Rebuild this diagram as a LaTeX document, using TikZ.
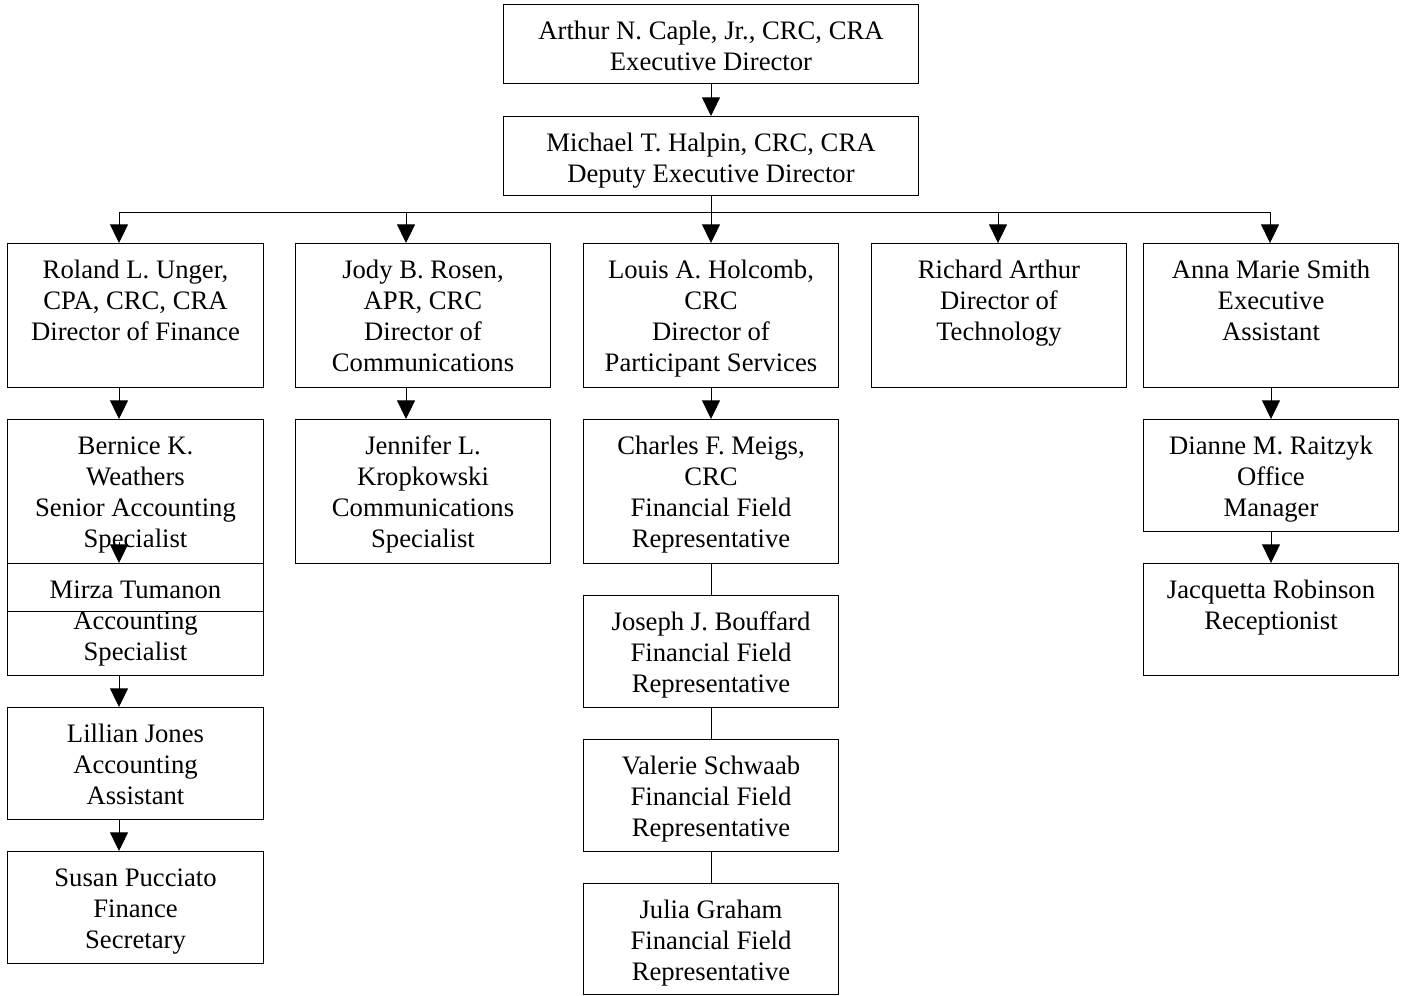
\documentclass[tikz,border=0pt]{standalone}
\usepackage{fontspec}
\setmainfont{Liberation Serif}
\usetikzlibrary{arrows.meta}
\begin{document}
\begin{tikzpicture}[x=0.75pt,y=-0.75pt,
  box/.style 2 args={draw, line width=0.75pt, inner sep=0pt, anchor=north west,
    minimum width=#1*0.75pt, minimum height=#2*0.75pt},
  txt/.style={font=\fontsize{20}{23.25}\selectfont, align=center, inner sep=0pt, anchor=north},
  ln/.style={line width=0.75pt},
  arr/.style={line width=0.75pt, -{Triangle[length=14pt,width=13.5pt]}}]
\useasboundingbox (0,0) rectangle (1401,995);
% boxes
\node[box={415}{79}] (arthur) at (503,4) {};
\node[box={415}{79}] (michael) at (503,116) {};
\node[box={256}{144}] (roland) at (7,243) {};
\node[box={255}{144}] (jody) at (295,243) {};
\node[box={255}{144}] (louis) at (583,243) {};
\node[box={255}{144}] (richard) at (871,243) {};
\node[box={255}{144}] (anna) at (1143,243) {};
\node[box={256}{144}] (bernice) at (7,419) {};
\node[box={256}{112}] (mirza) at (7,563) {};
\node[box={256}{112}] (lillian) at (7,707) {};
\node[box={256}{112}] (susan) at (7,851) {};
\node[box={255}{144}] (jennifer) at (295,419) {};
\node[box={255}{144}] (charles) at (583,419) {};
\node[box={255}{112}] (joseph) at (583,595) {};
\node[box={255}{112}] (valerie) at (583,739) {};
\node[box={255}{111}] (julia) at (583,883) {};
\node[box={255}{112}] (dianne) at (1143,419) {};
\node[box={255}{112}] (jacquetta) at (1143,563) {};
% overlapping line inside Mirza box
\draw[ln] ([yshift=-36pt]mirza.north west) -- ([yshift=-36pt]mirza.north east);
% texts
\node[txt] (tarthur) at ([yshift=-9.95pt]arthur.north) {\strut Arthur N. Caple, Jr., CRC, CRA\\Executive Director};
\node[txt] (tmichael) at ([yshift=-9.95pt]michael.north) {\strut Michael T. Halpin, CRC, CRA\\Deputy Executive Director};
\node[txt] (troland) at ([yshift=-9.95pt]roland.north) {\strut Roland L. Unger,\\CPA, CRC, CRA\\Director of Finance};
\node[txt] (tjody) at ([yshift=-9.95pt]jody.north) {\strut Jody B. Rosen,\\APR, CRC\\Director of\\Communications};
\node[txt] (tlouis) at ([yshift=-9.95pt]louis.north) {\strut Louis A. Holcomb,\\CRC\\Director of\\Participant Services};
\node[txt] (trichard) at ([yshift=-9.95pt]richard.north) {\strut Richard Arthur\\Director of\\Technology};
\node[txt] (tanna) at ([yshift=-9.95pt]anna.north) {\strut Anna Marie Smith\\Executive\\Assistant};
\node[txt] (tbernice) at ([yshift=-9.95pt]bernice.north) {\strut Bernice K.\\Weathers\\Senior Accounting\\Specialist};
\node[txt] (tmirza) at ([yshift=-9.95pt]mirza.north) {\strut Mirza Tumanon\\Accounting\\Specialist};
\node[txt] (tlillian) at ([yshift=-9.95pt]lillian.north) {\strut Lillian Jones\\Accounting\\Assistant};
\node[txt] (tsusan) at ([yshift=-9.95pt]susan.north) {\strut Susan Pucciato\\Finance\\Secretary};
\node[txt] (tjennifer) at ([yshift=-9.95pt]jennifer.north) {\strut Jennifer L.\\Kropkowski\\Communications\\Specialist};
\node[txt] (tcharles) at ([yshift=-9.95pt]charles.north) {\strut Charles F. Meigs,\\CRC\\Financial Field\\Representative};
\node[txt] (tjoseph) at ([yshift=-9.95pt]joseph.north) {\strut Joseph J. Bouffard\\Financial Field\\Representative};
\node[txt] (tvalerie) at ([yshift=-9.95pt]valerie.north) {\strut Valerie Schwaab\\Financial Field\\Representative};
\node[txt] (tjulia) at ([yshift=-9.95pt]julia.north) {\strut Julia Graham\\Financial Field\\Representative};
\node[txt] (tdianne) at ([yshift=-9.95pt]dianne.north) {\strut Dianne M. Raitzyk\\Office\\Manager};
\node[txt] (tjacquetta) at ([yshift=-9.95pt]jacquetta.north) {\strut Jacquetta Robinson\\Receptionist};
% column coordinates
\coordinate (c1) at (119,212);
\coordinate (c2) at (406,212);
\coordinate (c3) at (michael.south |- c1);
\coordinate (c4) at (998,212);
\coordinate (c5) at (1270,212);
% connectors
\draw[arr] (arthur.south) -- (michael.north);
\draw[ln] (michael.south) -- (c3);
\draw[ln] (c1) -- (c5);
\draw[arr] (c1) -- (c1 |- roland.north);
\draw[arr] (c2) -- (c2 |- jody.north);
\draw[arr] (c3) -- (c3 |- louis.north);
\draw[arr] (c4) -- (c4 |- richard.north);
\draw[arr] (c5) -- (c5 |- anna.north);
\draw[arr] (c1 |- roland.south) -- (c1 |- bernice.north);
\coordinate (mz) at ([yshift=15.75pt]c1 |- mirza.north);
\draw[arr] (mz) -- (c1 |- mirza.north);
\draw[arr] (c1 |- mirza.south) -- (c1 |- lillian.north);
\draw[arr] (c1 |- lillian.south) -- (c1 |- susan.north);
\draw[arr] (c2 |- jody.south) -- (c2 |- jennifer.north);
\draw[arr] (louis.south) -- (charles.north);
\draw[ln] (charles.south) -- (joseph.north);
\draw[ln] (joseph.south) -- (valerie.north);
\draw[ln] (valerie.south) -- (julia.north);
\draw[arr] (anna.south) -- (dianne.north);
\draw[arr] (dianne.south) -- (jacquetta.north);
\end{tikzpicture}
\end{document}
